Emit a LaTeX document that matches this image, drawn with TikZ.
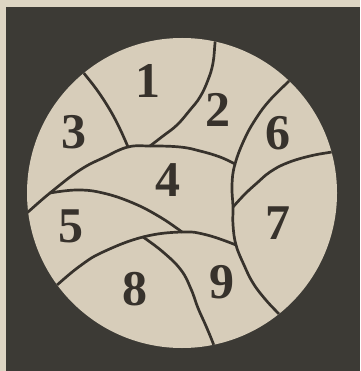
\documentclass[tikz,border=0pt]{standalone}
\usepackage{fontspec}
\setmainfont{Liberation Serif}
\usepackage{xcolor}
\definecolor{paper}{HTML}{DDD5C3}
\definecolor{board}{HTML}{3C3A35}
\definecolor{disc}{HTML}{D7CDBA}
\definecolor{ink}{HTML}{37322C}
\usetikzlibrary{calc}

\begin{document}
\begin{tikzpicture}[
        x=1pt, y=-1pt,
        border/.style={draw=ink, line width=2.7pt, line cap=round, line join=round},
        curve/.style={border, smooth, tension=0.7},
        numlabel/.style={text=ink, inner sep=0pt, font=\fontsize{50}{50}\selectfont\bfseries},
    ]

    % === Frame and disc ===
    \useasboundingbox (0,0) rectangle (360,371);
    \fill[paper] (0,0) rectangle (360,371);
    \fill[board] (6,7) rectangle (360,371);
    \coordinate (centre) at (182,193);
    \fill[disc] (centre) circle (155pt);

    % === Junctions ===
    \coordinate (j13) at (128,147);
    \coordinate (j12) at (150,146);
    \coordinate (j24) at (235,164);
    \coordinate (j45) at (50,193);
    \coordinate (j59) at (182,232);
    \coordinate (j89) at (143,237);
    \coordinate (j97) at (236,245);
    \coordinate (j67) at (233,207);

    % === Dividing curves ===
    \begin{scope}
        \clip (centre) circle (155pt);
        \draw[curve] plot coordinates {(80,67) (83,72) (97,90) (110,110) (120,129) (j13)};
        \draw[curve] plot coordinates {(216,36) (215,43) (213,63) (208,80) (200,97) (190,110) (177,125) (163,136) (j12)};
        \draw[curve] plot coordinates {(22,217) (28,212) (j45) (80,170) (105,157) (j13) (j12) (180,147) (200,151) (220,157) (j24)};
        \draw[curve] plot coordinates {(j45) (77,190) (103,193) (133,203) (160,217) (j59)};
        \draw[curve] plot coordinates {(53,289) (57,285) (80,266) (103,252) (j89) (j59) (207,235) (j97)};
        \draw[curve] plot coordinates {(j89) (163,252) (181,270) (191,289) (198,308) (206,326) (213,343) (215,350)};
        \draw[curve] plot coordinates {(293,77) (288,82) (270,100) (257,117) (245,138) (j24) (232,185) (j67) (233,225) (j97) (244,265) (253,283) (265,299) (278,313) (283,318)};
        \draw[curve] plot coordinates {(338,151) (332,152) (310,156) (287,163) (270,172) (257,183) (245,194) (j67)};
    \end{scope}

    % === Region numbers ===
    \node[numlabel] (n1) at (148,81) {1};
    \node[numlabel] (n2) at (218,110) {2};
    \node[numlabel] (n3) at (74,132) {3};
    \node[numlabel] (n4) at (168,180) {4};
    \node[numlabel] (n5) at (71,226) {5};
    \node[numlabel] (n6) at (278,133) {6};
    \node[numlabel] (n7) at (278,223) {7};
    \node[numlabel] (n8) at (135,289) {8};
    \node[numlabel] (n9) at (222,282) {9};

\end{tikzpicture}
\end{document}
